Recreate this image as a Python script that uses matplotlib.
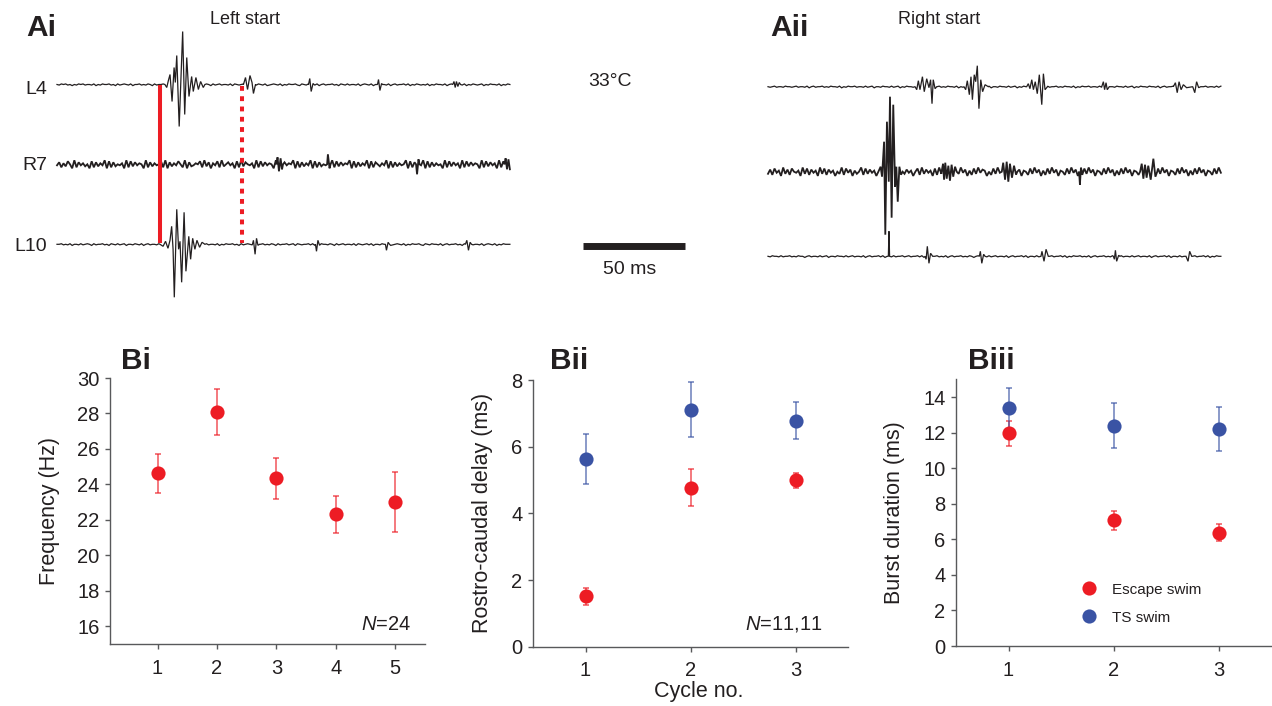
import matplotlib.pyplot as plt
import numpy as np

plt.rcParams["font.family"] = ["Liberation Sans", "DejaVu Sans"]
plt.rcParams["mathtext.fontset"] = "custom"
plt.rcParams["mathtext.it"] = "Liberation Sans:italic"
plt.rcParams["mathtext.rm"] = "Liberation Sans"

RED = "#ed1c24"
BLUE = "#3a53a4"
TEXT = "#231f20"
SPINE = "#58595b"

# ---------------- Panel B data (mean, lower and upper error bar ends) ----------------
FREQ_CYCLE = [1, 2, 3, 4, 5]
FREQ_MEAN = [24.62, 28.08, 24.34, 22.34, 23.01]
FREQ_LO = [23.53, 26.76, 23.15, 21.28, 21.32]
FREQ_HI = [25.71, 29.37, 25.48, 23.37, 24.68]

CYCLE3 = [1, 2, 3]
DELAY_ESC = [1.52, 4.77, 4.99]
DELAY_ESC_LO = [1.25, 4.21, 4.76]
DELAY_ESC_HI = [1.77, 5.32, 5.22]
DELAY_TS = [5.64, 7.11, 6.78]
DELAY_TS_LO = [4.87, 6.28, 6.23]
DELAY_TS_HI = [6.38, 7.93, 7.33]

BURST_ESC = [11.96, 7.06, 6.38]
BURST_ESC_LO = [11.27, 6.51, 5.88]
BURST_ESC_HI = [12.67, 7.60, 6.87]
BURST_TS = [13.36, 12.39, 12.22]
BURST_TS_LO = [12.18, 11.14, 10.99]
BURST_TS_HI = [14.52, 13.66, 13.44]

# ---------------- Panel A traces ----------------
# time in ms from trace start, amplitude in arbitrary units; bursts,
# baseline noise as digit strings (digit-5 = deflection step)
TRACE_MS = 222.0
ONSET_SOLID_MS = 50.7
ONSET_DOTTED_MS = 90.7
SCALE_MS = 50

AI_L4_NOISE = ("5465645354656455463546556453645654635564546536455645636545564635465546"
               "5364564554636545646355465463456546354655643654655463564556453654645546"
               "3565463546554635645564635465454635465546356455646354654563546554635465")
AI_R7_NOISE = ("4726385192746351827364918273546192837465192736458291736485291734658293"
               "7164829357461829375461928374651928374659182736491827354619283746591827"
               "3649182753649182736459182736491827364519283746192837465192837461928374")
AI_L10_NOISE = ("5564546355464565364556453654645635546546356455463654564635465546536456"
                "4554635465564536456546355645465364556456365455646354655465364564554636"
                "5456463554654634565463546556436546554635645564536546455463565463546555")
AII_TOP_NOISE = ("5456455465545645546356455645465546354655645546456355465546456354655465"
                 "5463564556454655463546556455464563554655464563546554655463564556454655"
                 "4635465564554645635546554645635465546554635645564546554635465564554646")
AII_MID_NOISE = ("3728461937285461938274619382746153928471635928374618293746518293746158"
                 "2937461829374615283947162839476152839471628394716528394716283947165283"
                 "9471628394716528394716283947165283947162839471652839471628394716528394")
AII_BOT_NOISE = ("5465546455645465535645546456355465546456455463564556463554645564564556"
                 "4635465564546356455645465356455464564554635645564635546455645645564635"
                 "4655645463564556454653564554645645546356455646355464556456455646354655")

AI_L4_EVENTS = [
    [(52.9, 0), (53.8, -3), (54.6, 4), (55.4, 10), (56.4, -17), (57.4, 17), (58.0, 2),
     (58.7, 29), (59.9, -42), (61.6, 53), (62.6, -30), (63.6, 27), (64.7, -12), (66.0, 8),
     (66.8, -7), (68.1, 7), (69.3, -5), (70.4, 3), (71.7, -3), (72.5, 0)],
    [(91.4, 0), (92.4, 7), (93.4, -5), (94.6, 9), (95.6, 2), (96.3, -9), (97.3, 0)],
    [(123.3, 0), (123.9, 6), (124.6, -7), (125.5, 1), (126.0, 0)],
    [(157.1, 0), (157.6, 5), (158.3, -6), (159.1, 1), (159.6, 0)],
    [(194.0, 0), (194.6, 3), (195.2, -3), (195.8, 3), (196.5, -2), (197.2, 2), (197.8, 0)],
]
AI_R7_EVENTS = [
    [(107.6, 0), (108.1, 7), (108.8, -7), (109.6, 6), (110.3, -5), (110.8, 0)],
    [(132.4, 0), (132.8, 10), (133.6, -4), (134.1, 0)],
    [(176.0, 0), (176.5, -10), (177.2, 5), (177.7, 0)],
    [(219.4, 0), (219.9, 6), (220.6, -5), (221.3, 5), (222.0, -5)],
]
AI_L10_EVENTS = [
    [(50.5, 0), (52.0, -2), (53.2, 3), (54.4, -4), (55.4, 4), (56.2, 18), (56.9, -5),
     (57.5, -53), (58.7, 35), (59.6, -5), (60.3, 3), (61.1, -38), (62.3, 32), (63.2, -27),
     (64.6, 8), (65.5, -15), (66.5, 6), (67.6, -5), (68.6, 4), (69.9, -3), (71.1, 2), (72.5, 0)],
    [(95.8, 0), (96.3, 4), (97.1, -10), (97.8, 6), (98.5, -1), (99.3, 0)],
    [(126.7, 0), (127.2, -7), (127.9, 4), (128.7, -1), (129.2, 0)],
    [(161.0, 0), (161.5, -6), (162.3, 2), (163.0, 0)],
    [(200.2, 0), (200.9, 4), (201.7, -6), (202.5, 2), (203.2, 0)],
]
AII_TOP_EVENTS = [
    [(72.1, 0), (72.9, -3), (73.7, 6), (74.5, -3), (75.7, 10), (76.6, -5), (77.8, 8),
     (78.9, -1), (79.7, 7), (80.4, -17), (81.0, 7), (81.9, -2), (82.7, 0)],
    [(96.1, 0), (96.9, -3), (97.7, 6), (98.7, -8), (99.5, 10), (100.2, -13), (101.1, 12),
     (101.8, 5), (102.6, 21), (103.4, -22), (104.3, 7), (105.2, -5), (106.4, 2), (108.0, 0)],
    [(126.8, 0), (127.6, 3), (128.4, -2), (129.3, 7), (130.1, -3), (131.0, 5), (132.0, -7),
     (133.0, 12), (134.2, -18), (135.0, 13), (135.8, -3), (137.0, 0)],
    [(163.6, 0), (164.4, 5), (165.0, -3), (165.7, 4), (166.3, -3), (167.3, 0)],
    [(198.7, 0), (199.7, 4), (200.6, -6), (201.5, 5), (202.5, -3), (203.6, 2), (205.2, -1),
     (208.2, 0), (209.2, -6), (210.1, 5), (211.1, -1), (212.1, 0)],
]
AII_MID_EVENTS = [
    [(54.1, 0), (55.2, 5), (55.9, -5), (56.9, 30), (57.5, -63), (58.3, 50), (59.2, -10),
     (59.8, 75), (60.6, -46), (61.4, 67), (62.3, -15), (62.9, 5), (63.6, -30), (64.4, 5),
     (65.2, -3), (66.0, 0)],
    [(85.1, 0), (85.8, 8), (86.3, -8), (86.9, 9), (87.6, -7), (88.4, 6), (89.2, -9),
     (90.0, 7), (90.8, -5), (91.7, 5), (92.5, 0)],
    [(114.6, 0), (115.3, 9), (116.2, -8), (117.0, 10), (117.8, -10), (118.6, 8),
     (119.6, -6), (120.6, 6), (121.6, -3), (122.2, 0)],
    [(152.5, 0), (152.9, -13), (153.4, 4), (153.9, 0)],
    [(182.4, 0), (183.2, 8), (184.0, -7), (184.8, 7), (185.6, -6), (186.4, 6), (187.6, -8),
     (188.9, 13), (189.9, -5), (190.8, 0)],
]
AII_BOT_EVENTS = [
    [(59.0, 0), (59.3, 25), (59.6, 0)],
    [(77.0, 0), (77.5, -3), (78.1, 10), (78.9, -7), (79.7, 3), (80.7, 0)],
    [(103.6, 0), (104.1, 5), (104.8, -7), (105.7, 2), (106.4, 0)],
    [(133.8, 0), (134.3, 5), (135.3, -5), (136.3, 7), (137.4, 0)],
    [(169.3, 0), (169.8, -3), (170.3, 6), (170.9, -5), (171.9, 1), (172.5, 0)],
    [(204.9, 0), (205.9, -5), (206.7, 5), (207.7, 0)],
]

# ---------------- layout (pixels of the 1272 x 706 figure) ----------------
W, H = 1272, 706
PX_PER_MS = 2.04


def fx(x):
    return x / W


def fy(y):
    return 1 - y / H


def trace_xy(noise, scale, events):
    vals = (np.array([int(c) for c in noise]) - 5) * scale
    t = np.linspace(0, TRACE_MS, len(vals))
    keep = np.ones(len(t), bool)
    for ev in events:
        keep &= ~((t >= ev[0][0]) & (t <= ev[-1][0]))
    pts = list(zip(t[keep], vals[keep]))
    for ev in events:
        pts += ev
    pts.sort()
    arr = np.array(pts)
    return arr[:, 0], arr[:, 1]


fig = plt.figure(figsize=(W / 100, H / 100), dpi=100)

# ---- A: extracellular traces ----
ax_a = fig.add_axes([0, fy(310), 1, 310 / H])
ax_a.set_xlim(0, W / PX_PER_MS)
ax_a.set_ylim(-310, 0)
ax_a.axis("off")

ai_x0 = 57 / PX_PER_MS
aii_x0 = 768 / PX_PER_MS
traces = [
    (AI_L4_NOISE, 0.55, AI_L4_EVENTS, ai_x0, -84.5, 0.9),
    (AI_R7_NOISE, 1.0, AI_R7_EVENTS, ai_x0, -164.3, 1.3),
    (AI_L10_NOISE, 0.55, AI_L10_EVENTS, ai_x0, -244.3, 0.9),
    (AII_TOP_NOISE, 0.55, AII_TOP_EVENTS, aii_x0, -86.7, 0.9),
    (AII_MID_NOISE, 1.05, AII_MID_EVENTS, aii_x0, -171.7, 1.3),
    (AII_BOT_NOISE, 0.55, AII_BOT_EVENTS, aii_x0, -256.3, 0.9),
]
for noise, scale, events, x0, base, lw in traces:
    t, v = trace_xy(noise, scale, events)
    ax_a.plot(t + x0, v + base, color=TEXT, lw=lw, solid_joinstyle="miter")

# onset markers
ax_a.plot([ai_x0 + ONSET_SOLID_MS] * 2, [-84.5, -242.5], color=RED, lw=2.9,
          solid_capstyle="butt", zorder=3)
ax_a.plot([ai_x0 + ONSET_DOTTED_MS] * 2, [-85.5, -243], color=RED, lw=2.9,
          linestyle=(0, (1.2, 1.35)), dash_capstyle="butt", zorder=3)

# scale bar
sb_x = 583 / PX_PER_MS
ax_a.plot([sb_x, sb_x + SCALE_MS], [-245.5, -245.5], color=TEXT, lw=5, solid_capstyle="butt")

fig.text(fx(630), fy(270), "50 ms", ha="center", va="center", fontsize=14, color=TEXT)
fig.text(fx(588), fy(81), "33°C", ha="left", va="center", fontsize=14, color=TEXT)
fig.text(fx(245), fy(19), "Left start", ha="center", va="center", fontsize=13, color=TEXT)
fig.text(fx(939), fy(19), "Right start", ha="center", va="center", fontsize=13, color=TEXT)
for lab, y in [("L4", 89.5), ("R7", 165.5), ("L10", 246.5)]:
    fig.text(fx(47.5), fy(y), lab, ha="right", va="center", fontsize=14, color=TEXT)

for lab, x, y in [("Ai", 26, 36), ("Aii", 770, 36), ("Bi", 121, 369),
                  ("Bii", 550, 369), ("Biii", 968, 369)]:
    fig.text(fx(x), fy(y), lab, ha="left", va="baseline", fontsize=21.5,
             fontweight="bold", color=TEXT)


# ---- B: summary plots ----
def style_axes(ax):
    for s in ["top", "right"]:
        ax.spines[s].set_visible(False)
    for s in ["left", "bottom"]:
        ax.spines[s].set_color(SPINE)
        ax.spines[s].set_linewidth(1.0)
    ax.tick_params(direction="out", length=3.5, width=1.0, color=SPINE,
                   labelsize=14.5, labelcolor=TEXT)
    ax.tick_params(axis="x", pad=7)
    ax.tick_params(axis="y", pad=4)


def err(mean, lo, hi):
    mean = np.array(mean)
    return [mean - np.array(lo), np.array(hi) - mean]


def points(ax, x, mean, lo, hi, color):
    eb = ax.errorbar(x, mean, yerr=err(mean, lo, hi), fmt="o", color=color, ms=10.2,
                     mec="none", ecolor=color, elinewidth=1.1, capsize=2.5,
                     capthick=1.1, zorder=3)
    for c in eb[1] + eb[2]:
        c.set_alpha(0.75)
    return eb


# Bi
ax1 = fig.add_axes([fx(110), fy(644), 315 / W, 266 / H])
points(ax1, FREQ_CYCLE, FREQ_MEAN, FREQ_LO, FREQ_HI, RED)
ax1.set_xlim(0.2, 5.5)
ax1.set_ylim(15, 30)
ax1.set_xticks(FREQ_CYCLE)
ax1.set_yticks(range(16, 31, 2))
style_axes(ax1)
ax1.set_ylabel("Frequency (Hz)", fontsize=15.5, color=TEXT)
ax1.yaxis.set_label_coords(-0.159, 0.5)
fig.text(fx(411), fy(630), r"$\mathit{N}$=24", ha="right", va="baseline",
         fontsize=14.5, color=TEXT)

# Bii
ax2 = fig.add_axes([fx(533), fy(646.7), 315 / W, 266.7 / H])
points(ax2, CYCLE3, DELAY_ESC, DELAY_ESC_LO, DELAY_ESC_HI, RED)
points(ax2, CYCLE3, DELAY_TS, DELAY_TS_LO, DELAY_TS_HI, BLUE)
ax2.set_xlim(0.5, 3.5)
ax2.set_ylim(0, 8)
ax2.set_xticks(CYCLE3)
ax2.set_yticks(range(0, 9, 2))
style_axes(ax2)
ax2.set_ylabel("Rostro-caudal delay (ms)", fontsize=15.5, color=TEXT)
ax2.yaxis.set_label_coords(-0.126, 0.5)
ax2.set_xlabel("Cycle no.", fontsize=15.5, color=TEXT)
ax2.xaxis.set_label_coords(0.525, -0.129)
fig.text(fx(823), fy(630), r"$\mathit{N}$=11,11", ha="right", va="baseline",
         fontsize=14.5, color=TEXT)

# Biii
ax3 = fig.add_axes([fx(956), fy(646), 315 / W, 266.7 / H])
eb_esc = points(ax3, CYCLE3, BURST_ESC, BURST_ESC_LO, BURST_ESC_HI, RED)
eb_ts = points(ax3, CYCLE3, BURST_TS, BURST_TS_LO, BURST_TS_HI, BLUE)
ax3.set_xlim(0.5, 3.5)
ax3.set_ylim(0, 15)
ax3.set_xticks(CYCLE3)
ax3.set_yticks(range(0, 15, 2))
style_axes(ax3)
ax3.set_ylabel("Burst duration (ms)", fontsize=15.5, color=TEXT)
ax3.yaxis.set_label_coords(-0.161, 0.5)
leg = ax3.legend([eb_esc[0], eb_ts[0]], ["Escape swim", "TS swim"], loc="upper left",
                 bbox_to_anchor=(0.394, 0.238), frameon=False, fontsize=11,
                 handlelength=1.2, handletextpad=0.88, labelspacing=0.92,
                 borderpad=0, borderaxespad=0, markerscale=1.0)
for t in leg.get_texts():
    t.set_color(TEXT)

fig.savefig("out.png", dpi=100)
